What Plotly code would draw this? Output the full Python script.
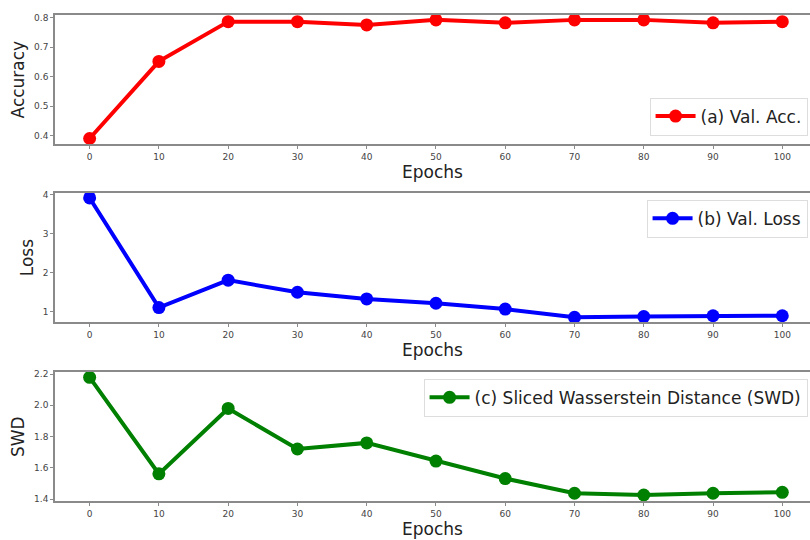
import plotly.graph_objects as go

epochs = [0, 10, 20, 30, 40, 50, 60, 70, 80, 90, 100]
val_acc = [0.39, 0.652, 0.787, 0.787, 0.776, 0.793, 0.783, 0.793, 0.793, 0.783, 0.787]
val_loss = [3.91, 1.11, 1.81, 1.50, 1.33, 1.22, 1.07, 0.86, 0.88, 0.90, 0.90]
swd = [2.179, 1.562, 1.98, 1.721, 1.76, 1.644, 1.532, 1.438, 1.427, 1.438, 1.444]

names = ["(a) Val. Acc.", "(b) Val. Loss", "(c) Sliced Wasserstein Distance (SWD)"]
colors = ["#ff0000", "#0000ff", "#008000"]
ytitles = ["Accuracy", "Loss", "SWD"]
series = [val_acc, val_loss, swd]
yranges = [[0.37, 0.81], [0.73, 4.04], [1.386, 2.214]]
ytickvals = [[0.4, 0.5, 0.6, 0.7, 0.8], [1, 2, 3, 4], [1.4, 1.6, 1.8, 2.0, 2.2]]
yticktext = [["0.4", "0.5", "0.6", "0.7", "0.8"], ["1", "2", "3", "4"], ["1.4", "1.6", "1.8", "2.0", "2.2"]]

H = 540.0
W = 810.0
panels_px = [(12, 143), (192, 323), (373, 504)]
domains = [[1 - b / H, 1 - t / H] for t, b in panels_px]

FONT = "DejaVu Sans"
fig = go.Figure()
legend_names = ["legend", "legend2", "legend3"]
for i in range(3):
    xa = "x" if i == 0 else f"x{i+1}"
    ya = "y" if i == 0 else f"y{i+1}"
    fig.add_trace(go.Scatter(
        x=epochs, y=series[i], mode="lines+markers", name=names[i],
        line=dict(color=colors[i], width=4),
        marker=dict(color=colors[i], size=13),
        xaxis=xa, yaxis=ya, legend=legend_names[i], showlegend=True,
    ))
    xkey = "xaxis" if i == 0 else f"xaxis{i+1}"
    ykey = "yaxis" if i == 0 else f"yaxis{i+1}"
    fig.layout[xkey] = dict(
        domain=[55 / W, 1.0], anchor=ya, range=[-5, 104],
        tickvals=epochs, ticktext=[str(e) for e in epochs],
        showline=True, linecolor="#8a8a8a", linewidth=1.5, mirror=True,
        ticks="outside", ticklen=3, tickcolor="#8a8a8a", tickwidth=1,
        tickfont=dict(family=FONT, size=9, color="#444"),
        showgrid=False, zeroline=False,
        title=dict(text="Epochs", font=dict(family=FONT, size=17, color="#222"), standoff=4),
    )
    fig.layout[ykey] = dict(
        domain=domains[i], anchor=xa, range=yranges[i],
        tickvals=ytickvals[i], ticktext=yticktext[i],
        showline=True, linecolor="#8a8a8a", linewidth=1.5,
        ticks="outside", ticklen=3, tickcolor="#8a8a8a", tickwidth=1,
        tickfont=dict(family=FONT, size=9, color="#444"),
        showgrid=False, zeroline=False,
        title=dict(text=ytitles[i], font=dict(family=FONT, size=17, color="#222"), standoff=5),
    )

leg_common = dict(bgcolor="rgba(255,255,255,0.9)", bordercolor="#dddddd", borderwidth=1,
                  font=dict(family=FONT, size=17, color="#222"), itemwidth=40,
                  xanchor="right", x=0.997)
fig.update_layout(
    legend=dict(**leg_common, yanchor="bottom", y=1 - 134 / H),
    legend2=dict(**leg_common, yanchor="top", y=1 - 199 / H),
    legend3=dict(**leg_common, yanchor="top", y=1 - 380 / H),
    width=810, height=540,
    margin=dict(l=0, r=0, t=0, b=0),
    paper_bgcolor="white", plot_bgcolor="white",
)

fig.write_html("out.html")
